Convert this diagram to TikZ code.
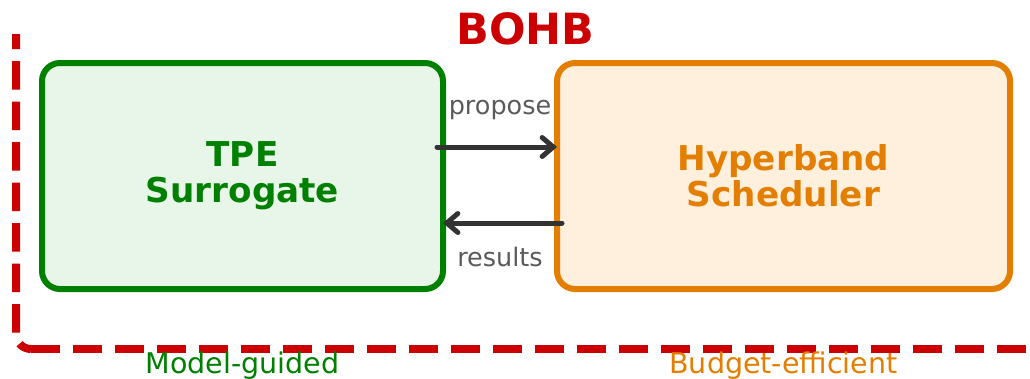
\documentclass[tikz,border=0pt]{standalone}
\usepackage{fontspec}
\setmainfont{DejaVu Sans}
\usetikzlibrary{arrows.meta}
\definecolor{bohbred}{HTML}{CC0000}
\definecolor{tpegreen}{HTML}{008000}
\definecolor{tpefill}{HTML}{E8F5E9}
\definecolor{hborange}{HTML}{E37E00}
\definecolor{hbfill}{HTML}{FFF0DE}
\definecolor{flowgray}{HTML}{333333}
\definecolor{labelgray}{HTML}{5A5A5A}
\tikzset{
  panel/.style={rounded corners=18pt, line width=6pt, outer sep=0pt,
    inner sep=0pt, align=center, font=\bfseries\fontsize{34.2}{36}\selectfont},
  flow/.style={draw=flowgray, line width=5pt, line cap=round,
    -{Straight Barb[length=11pt,width=19pt,line cap=round]}},
  flowlabel/.style={anchor=base, text=labelgray, font=\fontsize{25.5}{29}\selectfont},
  frame/.style={draw=bohbred, line width=8pt, line cap=butt},
  tagline/.style={anchor=base, font=\fontsize{28.5}{32}\selectfont}
}
\begin{document}
\begin{tikzpicture}[x=1pt, y=-1pt]
  \useasboundingbox (0,0) rectangle (1030,378);
  \clip (0,0) rectangle (1030,378);

  % dashed outline of the combined method (top and right edges lie outside)
  \coordinate (fcorner) at (31,349);
  \draw[frame, dash pattern=on 29pt off 13pt] (fcorner) -- (1045,349);
  \draw[frame, dash pattern=on 28.5pt off 12pt, dash phase=15.5pt]
    (fcorner) arc[start angle=90, end angle=180, radius=15] -- (16,34);

  % title
  \node[anchor=base, text=bohbred, font=\bfseries\fontsize{43}{47}\selectfont]
    (title) at (525.5,44) {BOHB};

  % the two components
  \node[panel, draw=tpegreen, fill=tpefill, text=tpegreen,
        minimum width=401pt, minimum height=226pt]
    (tpe) at (242.5,176) {TPE\\Surrogate};
  \node[panel, draw=hborange, fill=hbfill, text=hborange,
        minimum width=453pt, minimum height=226pt]
    (hb) at (783.5,176) {Hyperband\\Scheduler};

  % exchange between them
  \draw[flow] ([xshift=-6pt, yshift=29pt]tpe.east) -- ([yshift=29pt]hb.west);
  \draw[flow] ([xshift=5pt, yshift=-47pt]hb.west) -- ([yshift=-47pt]tpe.east);
  \node[flowlabel] (propose) at (500,114) {propose};
  \node[flowlabel] (results) at (500,266) {results};

  % captions under the components
  \node[tagline, text=tpegreen] (guided) at (242.5,373) {Model-guided};
  \node[tagline, text=hborange] (budget) at (783.5,373) {Budget-efficient};
\end{tikzpicture}
\end{document}
